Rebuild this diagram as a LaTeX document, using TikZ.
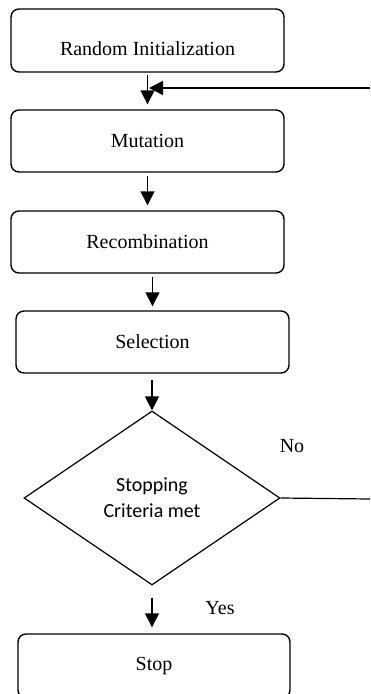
\documentclass[tikz,border=0pt]{standalone}
\usepackage{fontspec}
\setmainfont{Liberation Serif}
\newfontfamily\carlito{Carlito}
\usetikzlibrary{shapes.geometric,arrows.meta}

\begin{document}
\begin{tikzpicture}[x=1pt,y=-1pt,
  stepbox/.style={draw,rounded corners=8pt,line width=1.4pt,minimum width=273pt,
    minimum height=62pt,inner sep=0pt,font=\fontsize{20}{24}\selectfont},
  test/.style={draw,diamond,line width=1.2pt,minimum width=256pt,minimum height=174pt,
    inner sep=0pt,align=center,font=\carlito\fontsize{20}{26}\selectfont},
  flow/.style={-{Triangle[length=14pt,width=14pt]},line width=1.4pt},
  lbl/.style={font=\fontsize{20}{24}\selectfont}]
\useasboundingbox (0,0) rectangle (370,694);

\node[stepbox,minimum height=63pt,text height=30pt] at (147.5,40.5) (init) {Random Initialization};
\node[stepbox] at (147.5,141) (mut) {Mutation};
\node[stepbox] at (147.5,242) (rec) {Recombination};
\node[stepbox] at (152.5,342) (sel) {Selection};
\node[test] at (152,498) (crit) {Stopping\\Criteria met};
\node[stepbox,minimum width=272pt,minimum height=64pt] at (154,666) (stop) {Stop};

\node[lbl] at (292,446) (no) {No};
\node[lbl] at (220,608) (yes) {Yes};

\coordinate (back) at (370,88);
\coordinate (out) at (370,499);

\draw[flow,shorten <=2pt,shorten >=5pt] (init) -- (mut);
\draw[flow,shorten <=3pt,shorten >=5pt] (mut) -- (rec);
\draw[flow,shorten <=3pt,shorten >=4pt] (rec.south -| sel.north) -- (sel.north);
\draw[flow,shorten <=6pt] (sel.south -| crit.north) -- (crit.north);
\draw[flow,shorten <=12pt,shorten >=6pt] (crit.south) -- (crit.south |- stop.north);
\draw[flow,shorten >=1.5pt] (back) -- (back -| init.south);
\draw[line width=1.2pt] (crit.east) -- (out);
\end{tikzpicture}
\end{document}
